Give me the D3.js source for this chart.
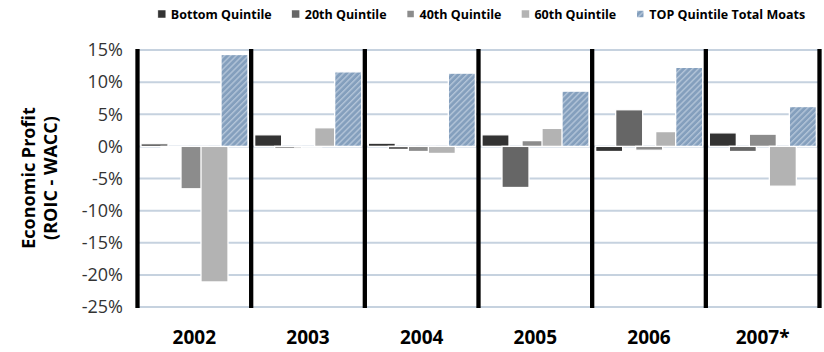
<!DOCTYPE html>
<html>
<head>
<meta charset="utf-8">
<script src="https://cdn.jsdelivr.net/npm/d3@7"></script>
<style>
  html, body { margin: 0; padding: 0; background: #fff; }
  svg { display: block; font-family: "Open Sans", "Noto Sans", sans-serif; }
</style>
</head>
<body>
<svg id="chart" width="824" height="352"></svg>
<script>
// Economic profit (ROIC - WACC) by quintile, in percent
const years = ["2002", "2003", "2004", "2005", "2006", "2007*"];
const seriesNames = ["Bottom Quintile", "20th Quintile", "40th Quintile", "60th Quintile", "TOP Quintile Total Moats"];
const bottomQuintile = [0.4, 1.8, 0.5, 1.8, -0.8, 2.1];
const q20th = [-0.2, -0.3, -0.5, -6.4, 5.7, -0.8];
const q40th = [-6.6, -0.1, -0.8, 0.9, -0.6, 1.9];
const q60th = [-21.1, 2.9, -1.1, 2.8, 2.3, -6.2];
const topMoats = [14.3, 11.6, 11.4, 8.6, 12.3, 6.2];
const yTicks = [15, 10, 5, 0, -5, -10, -15, -20, -25];

const seriesValues = [bottomQuintile, q20th, q40th, q60th, topMoats];
const fills = ["#333333", "#666666", "#8c8c8c", "#b3b3b3", "url(#moatStripes)"];

const svg = d3.select("#chart");
const plotLeft = 137.5, plotRight = 819.5, plotTop = 50, plotBottom = 307;

// striped fill for the top quintile
const defs = svg.append("defs");
const pat = defs.append("pattern")
  .attr("id", "moatStripes")
  .attr("patternUnits", "userSpaceOnUse")
  .attr("width", 4.2).attr("height", 4.2)
  .attr("patternTransform", "rotate(45)");
pat.append("rect").attr("width", 4.2).attr("height", 4.2).attr("fill", "#849fbd");
pat.append("rect").attr("x", 0).attr("width", 1.4).attr("height", 4.2).attr("fill", "#b3c4d8");

const x = d3.scaleBand().domain(years).range([plotLeft, plotRight]).paddingInner(0).paddingOuter(0);
const y = d3.scaleLinear().domain([-25, 15]).range([plotBottom, plotTop]);
// overlapping bars within each year: step 20px, width 27px
const xs = d3.scaleBand().domain(seriesNames).range([3.5, 103.5]).padding(0);
const barW = xs.bandwidth() * 1.35;

// horizontal gridlines
svg.append("g").selectAll("line").data(yTicks).join("line")
  .attr("x1", plotLeft).attr("x2", plotRight)
  .attr("y1", d => y(d)).attr("y2", d => y(d))
  .attr("stroke", "#c6d2df").attr("stroke-width", 2);

// y tick labels
svg.append("g").selectAll("text").data(yTicks).join("text")
  .attr("x", 123).attr("y", d => y(d))
  .attr("dy", "0.35em")
  .attr("text-anchor", "end")
  .attr("font-size", 18)
  .attr("fill", "#333")
  .text(d => d + "%");

// bars
seriesNames.forEach((name, si) => {
  svg.append("g").selectAll("rect").data(years.map((yr, i) => ({ yr, v: seriesValues[si][i] }))).join("rect")
    .attr("x", d => x(d.yr) + xs(name))
    .attr("width", barW)
    .attr("y", d => y(Math.max(0, d.v)))
    .attr("height", d => Math.abs(y(d.v) - y(0)))
    .attr("fill", fills[si])
    .attr("stroke", "#fff").attr("stroke-width", 1.3);
});

// heavy vertical dividers between years
const dividers = years.map(yr => x(yr)).concat([plotRight]);
svg.append("g").selectAll("line").data(dividers).join("line")
  .attr("x1", d => d).attr("x2", d => d)
  .attr("y1", plotTop - 1).attr("y2", plotBottom + 1)
  .attr("stroke", "#000").attr("stroke-width", 4.3);

// year labels
svg.append("g").selectAll("text").data(years).join("text")
  .attr("x", d => x(d) + x.bandwidth() / 2)
  .attr("y", 344)
  .attr("text-anchor", "middle")
  .attr("font-size", 19).attr("font-weight", 700)
  .attr("fill", "#000")
  .text(d => d);

// y axis title
const title = svg.append("text")
  .attr("transform", "translate(35,178) rotate(-90)")
  .attr("text-anchor", "middle")
  .attr("font-size", 18).attr("font-weight", 700).attr("fill", "#000");
title.append("tspan").attr("x", 0).attr("y", 0).text("Economic Profit");
title.append("tspan").attr("x", 0).attr("y", 22).text("(ROIC - WACC)");

// legend
const legend = svg.append("g");
let lx = 0;
seriesNames.forEach((name, i) => {
  const g = legend.append("g").attr("transform", `translate(${lx},0)`);
  g.append("rect").attr("x", 0).attr("y", 10).attr("width", 8).attr("height", 8)
    .attr("fill", fills[i]).attr("stroke", "#fff").attr("stroke-width", i === 2 || i === 4 ? 1.5 : 0.5);
  const t = g.append("text").attr("x", 13).attr("y", 18.5)
    .attr("font-size", 12.5).attr("font-weight", 700).attr("fill", "#000").text(name);
  lx += 13 + t.node().getComputedTextLength() + 20;
});
const legendW = lx - 20;
legend.attr("transform", `translate(${481.5 - legendW / 2},0)`);
</script>
</body>
</html>
